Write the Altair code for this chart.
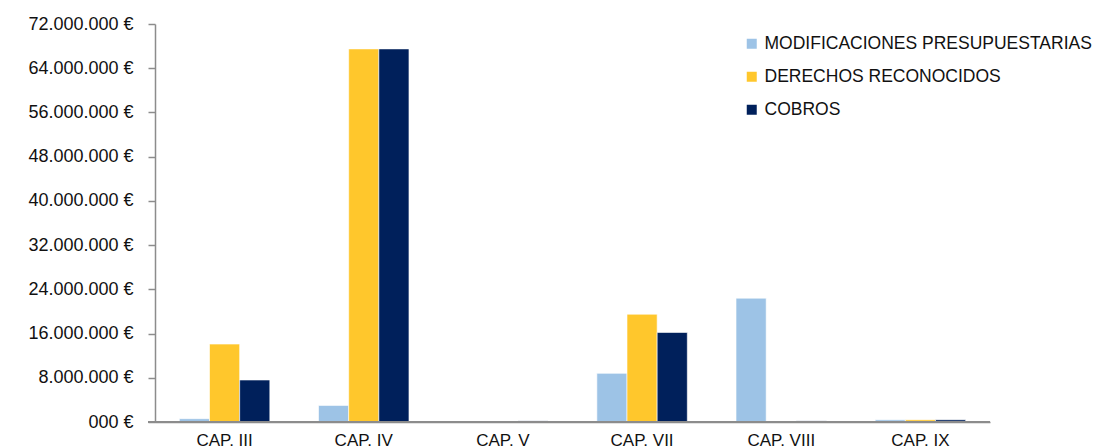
import altair as alt
import pandas as pd

categories = ["CAP. III", "CAP. IV", "CAP. V", "CAP. VII", "CAP. VIII", "CAP. IX"]
series = ["MODIFICACIONES PRESUPUESTARIAS", "DERECHOS RECONOCIDOS", "COBROS"]
modificaciones = [600000, 3000000, 0, 8800000, 22400000, 400000]
derechos = [14100000, 67500000, 100000, 19500000, 100000, 400000]
cobros = [7600000, 67500000, 200000, 16200000, 200000, 400000]
colors = ["#9DC3E6", "#FFC72C", "#00205B"]

rows = []
for i, c in enumerate(categories):
    for s, vals in zip(series, [modificaciones, derechos, cobros]):
        rows.append({"cap": c, "serie": s, "valor": vals[i]})
df = pd.DataFrame(rows)

font = "Liberation Sans"

bars = alt.Chart(df).mark_bar(stroke="white", strokeWidth=0.6).encode(
    x=alt.X("cap:N", sort=categories, title=None,
            scale=alt.Scale(paddingInner=0.35, paddingOuter=0.175),
            axis=alt.Axis(labelAngle=0, ticks=False, tickSize=0, labelPadding=10,
                          labelFont=font, labelFontSize=17, labelColor="#111111",
                          domainColor="#8C8C8C", domainWidth=1.5)),
    xOffset=alt.XOffset("serie:N", sort=series),
    y=alt.Y("valor:Q", title=None,
            scale=alt.Scale(domain=[0, 72000000], nice=False),
            axis=alt.Axis(values=[i * 8000000 for i in range(10)], grid=False,
                          labelExpr="datum.value == 0 ? '000 €' : replace(format(datum.value, ',.0f'), /,/g, '.') + ' €'",
                          labelFont=font, labelFontSize=18, labelColor="#111111",
                          tickSize=7, tickColor="#8C8C8C", tickWidth=1.5,
                          labelPadding=15,
                          domainColor="#8C8C8C", domainWidth=1.5)),
    color=alt.Color("serie:N", sort=series,
                    scale=alt.Scale(domain=series, range=colors),
                    legend=alt.Legend(title=None, orient="none", legendX=588, legendY=11,
                                      symbolType="square", symbolSize=100, symbolStrokeWidth=0,
                                      labelFont=font, labelFontSize=17.5, labelColor="#111111",
                                      labelOffset=4, rowPadding=14, padding=0,
                                      labelLimit=0)),
)

baseline = alt.Chart(df).mark_rule(color="#8C8C8C", strokeWidth=1.5).encode(
    x=alt.value(-7), x2=alt.value(835), y=alt.value(398)
)

chart = alt.layer(bars, baseline).properties(
    width=835, height=398,
    autosize=alt.AutoSizeParams(type="none"),
    padding={"left": 147, "top": 16, "right": 110, "bottom": 24},
    background="white",
).configure_view(strokeWidth=0, stroke=None)

chart.save("out.html", embed_options={"renderer": "svg", "actions": False})
